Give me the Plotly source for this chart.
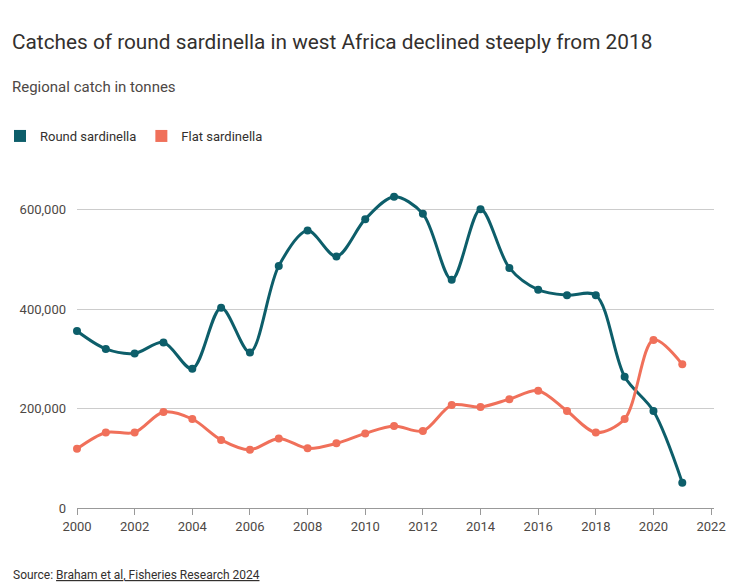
import plotly.graph_objects as go

years = list(range(2000, 2022))
round_sardinella = [356000, 320000, 311000, 333000, 280000, 403000, 313000, 487000, 558000, 506000,
                    581000, 626000, 592000, 459000, 601000, 483000, 439000, 428000, 428000, 264000,
                    195000, 51000]
flat_sardinella = [119000, 152000, 152000, 193000, 179000, 137000, 117000, 140000, 120000, 130000,
                   150000, 165000, 155000, 207000, 203000, 219000, 236000, 195000, 152000, 179000,
                   338000, 289000]
x_ticks = list(range(2000, 2023, 2))
y_ticks = [0, 200000, 400000, 600000]

ROUND = "#0d5e6a"
FLAT = "#f0705a"
FONT = "Roboto, 'Noto Sans', sans-serif"

fig = go.Figure()
for name, vals, col in [("Round sardinella", round_sardinella, ROUND),
                        ("Flat sardinella", flat_sardinella, FLAT)]:
    fig.add_trace(go.Scatter(x=years, y=vals, mode="lines+markers", name=name,
                             line=dict(color=col, width=3, shape="spline", smoothing=0.9),
                             marker=dict(color=col, size=8), showlegend=False,
                             cliponaxis=False))
    fig.add_trace(go.Scatter(x=[None], y=[None], mode="markers", name=name,
                             marker=dict(color=col, size=12, symbol="square"), showlegend=True))

fig.update_layout(
    width=750, height=588,
    margin=dict(l=77, r=36, t=160, b=80, autoexpand=False),
    paper_bgcolor="white", plot_bgcolor="white",
    font=dict(family=FONT, color="#33302e"),
    title=dict(text="Catches of round sardinella in west Africa declined steeply from 2018",
               x=12/750, xanchor="left", y=1-42/588, yanchor="middle",
               font=dict(size=20.8, color="#33302e")),
    legend=dict(orientation="h", xref="container", yref="container",
                x=0.0, y=1-136/588, xanchor="left", yanchor="middle",
                font=dict(size=13, color="#33302e"), itemwidth=30, tracegroupgap=0,
                bgcolor="rgba(0,0,0,0)"),
    xaxis=dict(range=[2000, 2022.1], tickvals=x_ticks, ticks="outside", ticklen=6,
               tickcolor="#999", showline=True, linecolor="#999", linewidth=1,
               showgrid=False, zeroline=False,
               tickfont=dict(size=13, color="#4d4845")),
    yaxis=dict(range=[0, 700000], tickvals=y_ticks, tickformat=",", showgrid=True,
               gridcolor="#cccccc", zeroline=False, ticks="", ticklabelstandoff=10,
               tickfont=dict(size=13, color="#4d4845")),
    annotations=[
        dict(text="Regional catch in tonnes", xref="paper", yref="paper",
             x=-67/637, y=(508-87)/348, xanchor="left", yanchor="middle",
             showarrow=False, font=dict(size=15, color="#4d4845")),
        dict(text="Source: <span style='text-decoration:underline'>Braham et al, Fisheries Research 2024</span>",
             xref="paper", yref="paper", x=-66/637, y=(508-575)/348,
             xanchor="left", yanchor="middle", showarrow=False,
             font=dict(size=12, color="#33302e")),
    ],
)
fig.write_html("out.html")
